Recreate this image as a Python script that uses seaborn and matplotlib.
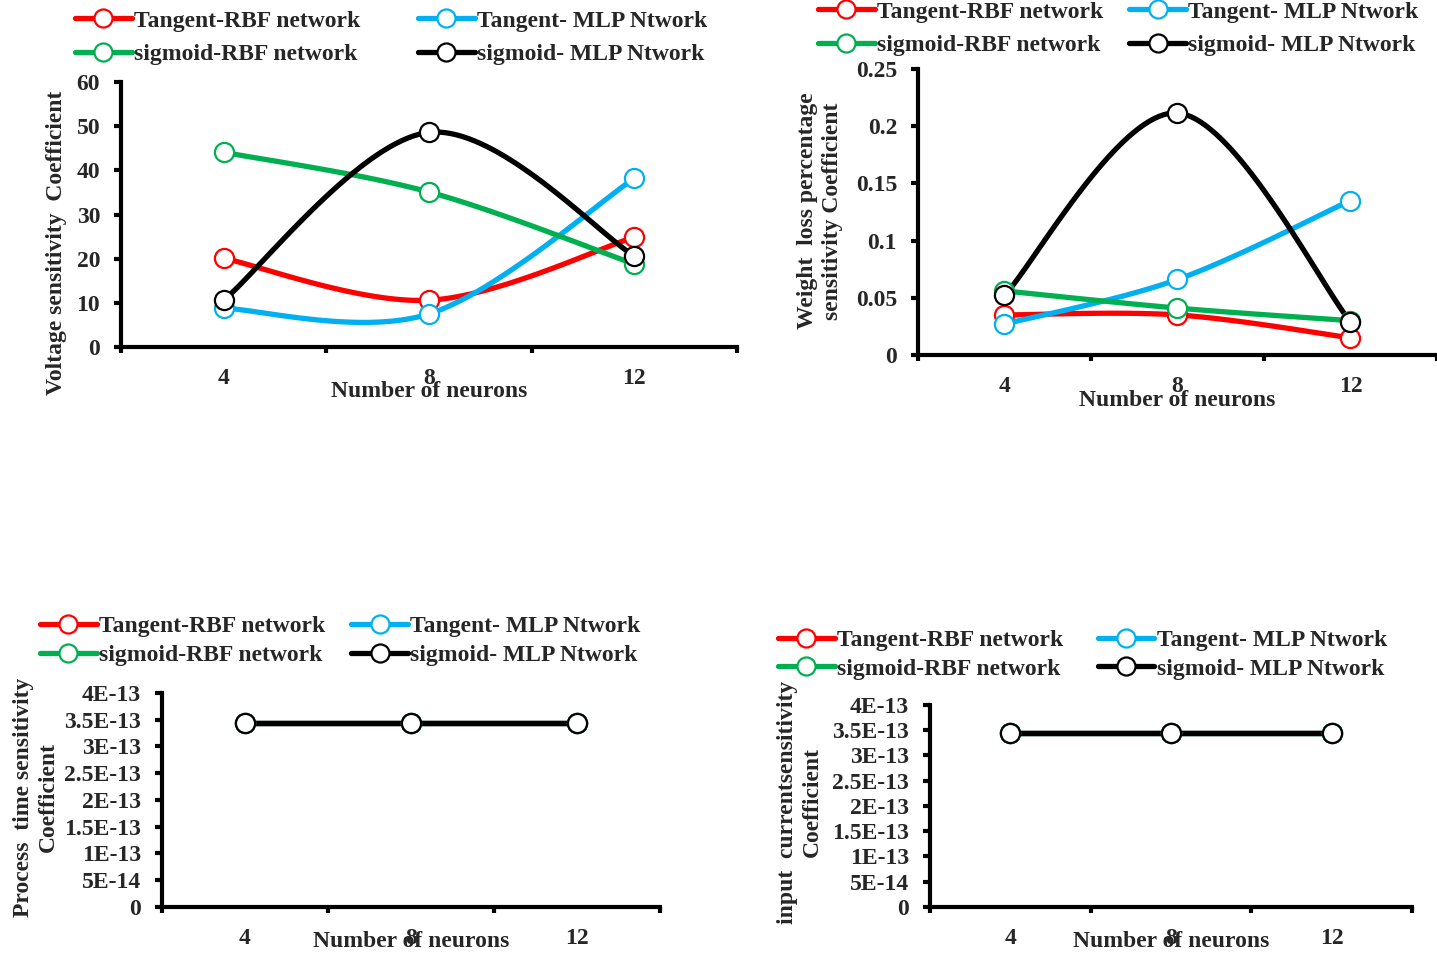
import numpy as np
import pandas as pd
import seaborn as sns
import matplotlib.pyplot as plt
from matplotlib.lines import Line2D

# categories on the x axis
neurons = ['4', '8', '12']
series_names = ['Tangent-RBF network', 'Tangent- MLP Ntwork',
                'sigmoid-RBF network', 'sigmoid- MLP Ntwork']
series_colors = ['#FF0000', '#00B0F0', '#00B050', '#000000']

# panel 1: voltage
voltage_tan_rbf = [20.1, 10.6, 24.9]
voltage_tan_mlp = [8.8, 7.5, 38.2]
voltage_sig_rbf = [44.1, 35.1, 18.8]
voltage_sig_mlp = [10.6, 48.6, 20.6]

# panel 2: weight loss percentage
weight_tan_rbf = [0.035, 0.035, 0.015]
weight_tan_mlp = [0.027, 0.066, 0.135]
weight_sig_rbf = [0.056, 0.041, 0.030]
weight_sig_mlp = [0.052, 0.2115, 0.029]

# panel 3: process time
ptime_tan_rbf = [3.44e-13, 3.44e-13, 3.44e-13]
ptime_tan_mlp = [3.44e-13, 3.44e-13, 3.44e-13]
ptime_sig_rbf = [3.44e-13, 3.44e-13, 3.44e-13]
ptime_sig_mlp = [3.44e-13, 3.44e-13, 3.44e-13]

# panel 4: input current
current_tan_rbf = [3.44e-13, 3.44e-13, 3.44e-13]
current_tan_mlp = [3.44e-13, 3.44e-13, 3.44e-13]
current_sig_rbf = [3.44e-13, 3.44e-13, 3.44e-13]
current_sig_mlp = [3.44e-13, 3.44e-13, 3.44e-13]

sns.set_theme(style='white')
plt.rcParams['font.family'] = ['Liberation Serif', 'DejaVu Serif']
plt.rcParams['font.weight'] = 'bold'
plt.rcParams['axes.labelweight'] = 'bold'

FS = 17


def smooth(xs, ys, n=40):
    # excel-style smoothed line (catmull-rom as cubic bezier)
    p = np.column_stack([xs, ys]).astype(float)
    ext = np.vstack([p[0], p, p[-1]])
    out = []
    t = np.linspace(0, 1, n)[:, None]
    for i in range(len(p) - 1):
        p0, p1 = p[i], p[i + 1]
        c1 = p0 + (ext[i + 2] - ext[i]) / 6
        c2 = p1 - (ext[i + 3] - ext[i + 1]) / 6
        seg = ((1 - t) ** 3) * p0 + 3 * ((1 - t) ** 2) * t * c1 + 3 * (1 - t) * t ** 2 * c2 + t ** 3 * p1
        out.append(seg if i == 0 else seg[1:])
    out = np.vstack(out)
    return out[:, 0], out[:, 1]


def draw_panel(fig, rect, values, ylim, yticks, ytlabels, ylabel, ylabel_xy,
               xlabel_y, legend_xy, legend_spacing, col_spacing):
    ax = fig.add_axes(rect)
    pos = np.arange(len(neurons)) + 0.5
    for name, color, vals in zip(series_names, series_colors, values):
        sx, sy = smooth(pos, vals)
        df = pd.DataFrame({'x': sx, 'y': sy})
        sns.lineplot(data=df, x='x', y='y', sort=False, estimator=None,
                     color=color, lw=3.8, ax=ax)
        pts = pd.DataFrame({'x': pos, 'y': vals})
        sns.scatterplot(data=pts, x='x', y='y', ax=ax, s=190, color='white',
                        edgecolor=color, linewidth=1.6, zorder=5)

    ax.set_xlim(0, len(neurons))
    ax.set_ylim(*ylim)
    ax.set_xticks(np.arange(len(neurons) + 1))
    ax.set_xticklabels([])
    ax.set_xticks(pos, neurons, minor=True)
    ax.tick_params(axis='x', which='minor', length=0, pad=15, labelsize=FS)
    ax.tick_params(axis='x', which='major', direction='out', length=4, width=3,
                   bottom=True, color='black')
    ax.set_yticks(yticks)
    ax.set_yticklabels(ytlabels)
    ax.tick_params(axis='y', direction='out', length=5, width=3, left=True,
                   labelsize=FS, pad=10, color='black')
    for lab in ax.get_xticklabels(minor=True) + ax.get_yticklabels():
        lab.set_fontweight('bold')

    for side in ['top', 'right']:
        ax.spines[side].set_visible(False)
    for side in ['left', 'bottom']:
        ax.spines[side].set_linewidth(3)
        ax.spines[side].set_color('black')

    ax.set_xlabel('Number of neurons', fontsize=FS, fontweight='bold', va='top')
    ax.xaxis.set_label_coords(0.5, xlabel_y)
    ax.set_ylabel(ylabel, fontsize=FS, fontweight='bold', va='center',
                  ha='center', multialignment='center', linespacing=1.25)
    ax.yaxis.set_label_coords(*ylabel_xy)

    handles = [Line2D([0], [0], color=c, lw=3.8, marker='o', ms=13, mfc='white',
                      mec=c, mew=1.6) for c in series_colors]
    # matplotlib fills legend columns first; reorder so rows read like the original
    order = [0, 2, 1, 3]
    fig.legend([handles[i] for i in order], [series_names[i] for i in order],
               loc='center left', bbox_to_anchor=legend_xy,
               ncol=2, frameon=False, prop={'size': FS, 'weight': 'bold'},
               handlelength=2.4, handletextpad=0.1, columnspacing=col_spacing,
               labelspacing=legend_spacing, borderpad=0, borderaxespad=0)
    return ax


fig = plt.figure(figsize=(14.37, 9.55), dpi=100)

draw_panel(fig, [0.0842, 0.6366, 0.4287, 0.2775],
           [voltage_tan_rbf, voltage_tan_mlp, voltage_sig_rbf, voltage_sig_mlp],
           (0, 60), np.arange(0, 61, 10), [str(v) for v in range(0, 61, 10)],
           'Voltage sensitivity  Coefficient', (-0.104, 0.392), -0.128,
           (0.0522, 0.9607), 0.5, 2.45)

draw_panel(fig, [0.6388, 0.6283, 0.3612, 0.2995],
           [weight_tan_rbf, weight_tan_mlp, weight_sig_rbf, weight_sig_mlp],
           (0, 0.25), np.linspace(0, 0.25, 6), ['0', '0.05', '0.1', '0.15', '0.2', '0.25'],
           'Weight  loss percentage\nsensitivity Coefficient', (-0.189, 0.503), -0.122,
           (0.5692, 0.9702), 0.5, 1.1)

e_labels = ['0', '5E-14', '1E-13', '1.5E-13', '2E-13', '2.5E-13', '3E-13', '3.5E-13', '4E-13']
e_ticks = np.linspace(0, 4e-13, 9)

draw_panel(fig, [0.1127, 0.0503, 0.3466, 0.2241],
           [ptime_tan_rbf, ptime_tan_mlp, ptime_sig_rbf, ptime_sig_mlp],
           (0, 4e-13), e_ticks, e_labels,
           'Process  time sensitivity\nCoefficient', (-0.253, 0.514), -0.112,
           (0.0278, 0.3288), 0.3, 1.1)

draw_panel(fig, [0.6472, 0.0503, 0.3354, 0.2115],
           [current_tan_rbf, current_tan_mlp, current_sig_rbf, current_sig_mlp],
           (0, 4e-13), e_ticks, e_labels,
           'input  currentsensitivity\nCoefficient', (-0.270, 0.52), -0.119,
           (0.5414, 0.3147), 0.3, 1.45)

fig.savefig('out.png', dpi=100)
